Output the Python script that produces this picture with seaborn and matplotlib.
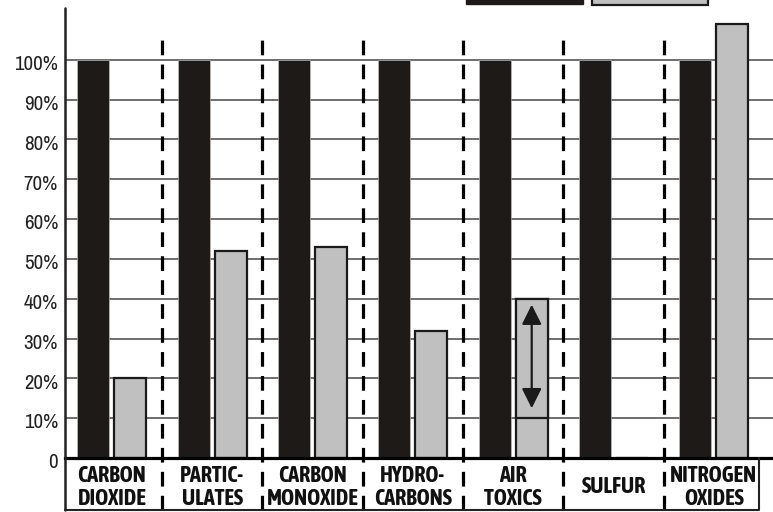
import matplotlib
matplotlib.use("Agg")
import matplotlib.pyplot as plt
import matplotlib.transforms as mtransforms
from matplotlib.patches import Rectangle
import seaborn as sns
import pandas as pd

categories = ["CARBON\nDIOXIDE", "PARTIC-\nULATES", "CARBON\nMONOXIDE", "HYDRO-\nCARBONS",
              "AIR\nTOXICS", "SULFUR", "NITROGEN\nOXIDES"]
baseline = [100, 100, 100, 100, 100, 100, 100]
reduced = [20, 52, 53, 32, 40, 0, 109]
air_toxics_range = [10, 40]   # low / high of the range bar
arrow_range = [38.5, 12.5]
yticks = [0, 10, 20, 30, 40, 50, 60, 70, 80, 90, 100]
ytick_labels = ["0", "10%", "20%", "30%", "40%", "50%", "60%", "70%", "80%", "90%", "100%"]

BLACK = "#1e1a18"
GRAY = "#c0c0c0"
EDGE = "#1a1a1a"

df = pd.DataFrame({
    "category": categories * 2,
    "series": ["Baseline"] * len(categories) + ["New"] * len(categories),
    "value": baseline + reduced,
})

sns.set_theme(style="white")
plt.rcParams["font.family"] = ["Archivo Narrow", "Liberation Sans", "DejaVu Sans"]

fig = plt.figure(figsize=(7.73, 5.12), dpi=100)
ax = fig.add_axes([65 / 773, 54 / 512, 708 / 773, 450 / 512])

sns.barplot(data=df, x="category", y="value", hue="series", order=categories,
            palette={"Baseline": BLACK, "New": GRAY}, width=0.74, gap=0.135,
            legend=False, ax=ax, zorder=3, saturation=1)

for p in ax.patches:
    fc = matplotlib.colors.to_hex(p.get_facecolor())
    if fc.lower() == GRAY:
        p.set_edgecolor(EDGE)
        p.set_linewidth(1.6)
    else:
        p.set_edgecolor("#cccccc")
        p.set_linewidth(0.4)

# air toxics split segment + range arrow
at_idx = categories.index("AIR\nTOXICS")
for p in list(ax.patches):
    cx = p.get_x() + p.get_width() / 2
    if matplotlib.colors.to_hex(p.get_facecolor()).lower() == GRAY and abs(cx - at_idx) < 0.5:
        ax.bar(cx, air_toxics_range[1] - air_toxics_range[0], bottom=air_toxics_range[0],
               width=p.get_width(), facecolor=GRAY, edgecolor=EDGE, linewidth=1.6, zorder=4)
        ax.annotate("", xy=(cx, arrow_range[1]), xytext=(cx, arrow_range[0]),
                    arrowprops=dict(arrowstyle="<|-|>,head_length=0.6,head_width=0.3", color=EDGE, lw=1.6,
                                    mutation_scale=20, shrinkA=0, shrinkB=0), zorder=6)
        break

ax.set_xlim(-0.467, 6.59)
ax.set_ylim(0, 113)

for v in yticks[1:]:
    ax.axhline(v, color="#555555", lw=1.2, zorder=1)

ax.set_yticks(yticks)
ax.set_yticklabels(ytick_labels, fontsize=15, color="#222222", family=["Archivo Narrow", "DejaVu Sans"])
ax.tick_params(axis="y", length=0, pad=5)
offset = mtransforms.ScaledTranslation(0, -2 / 72, fig.dpi_scale_trans)
for t in ax.get_yticklabels():
    t.set_transform(t.get_transform() + offset)

ax.set_xlabel("")
ax.set_ylabel("")
ax.tick_params(axis="x", length=0, pad=21)
for t in ax.get_xticklabels():
    t.set_family(["Asap Condensed", "DejaVu Sans"])
    t.set_fontsize(16)
    t.set_fontweight("bold")
    t.set_va("center")
    t.set_linespacing(1.05)
    t.set_color("#111111")

for s in ["top", "right", "left"]:
    ax.spines[s].set_visible(False)
ax.spines["bottom"].set_color("black")
ax.spines["bottom"].set_linewidth(2.3)
ax.spines["bottom"].set_zorder(7)

bottom_y = -52 / 450
right_x = (759 - 65) / 708
ax.plot([0, 0], [bottom_y, 1], transform=ax.transAxes, color="#222222", lw=1.8, clip_on=False, zorder=8)
ax.plot([0, right_x, right_x], [bottom_y, bottom_y, 0], transform=ax.transAxes,
        color="#222222", lw=1.5, clip_on=False, zorder=8)

trans = mtransforms.blended_transform_factory(ax.transData, ax.transAxes)
for i in range(len(categories) - 1):
    ax.plot([i + 0.5, i + 0.5], [bottom_y, (458 - 40) / 450], transform=trans,
            color="black", lw=2.3, dashes=(4.6, 2.9), clip_on=False, zorder=2)

fig.patches.append(Rectangle((466 / 773, 508 / 512), 117 / 773, 20 / 512, transform=fig.transFigure,
                             facecolor=BLACK, edgecolor=BLACK, lw=1))
fig.patches.append(Rectangle((592 / 773, 507 / 512), 116 / 773, 20 / 512, transform=fig.transFigure,
                             facecolor=GRAY, edgecolor=EDGE, lw=1.6))

fig.savefig("out.png", dpi=100)
